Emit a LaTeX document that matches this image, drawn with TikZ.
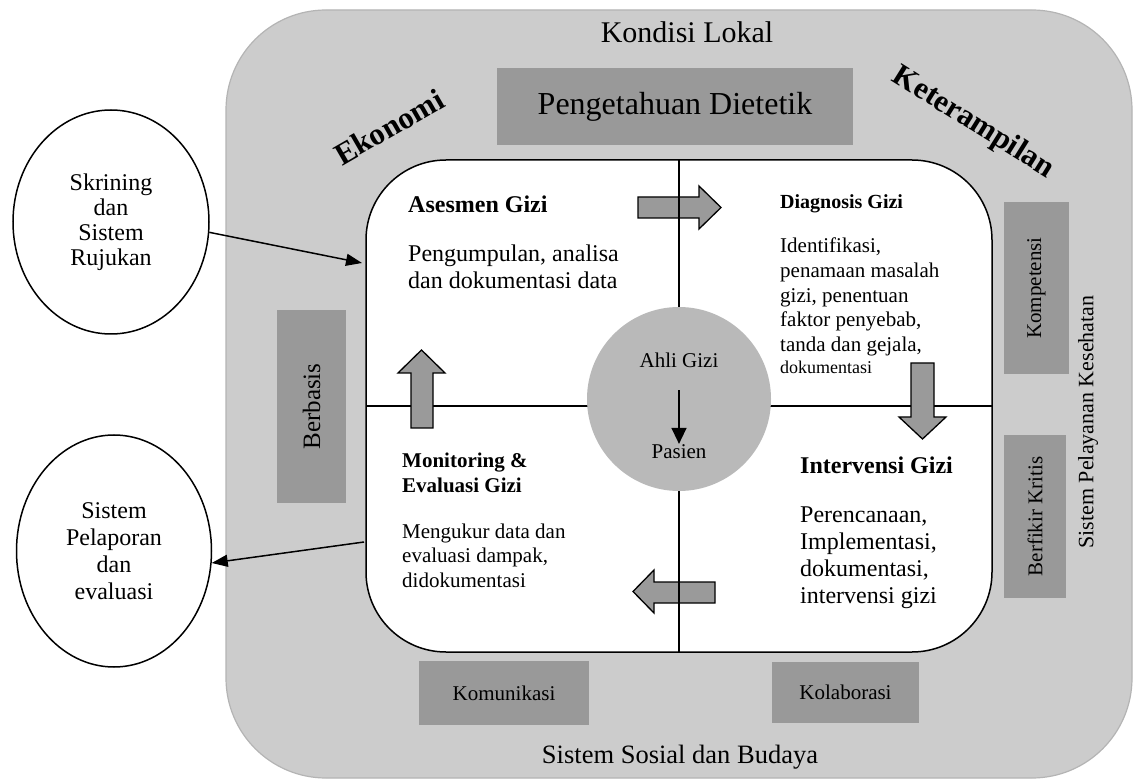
\documentclass[tikz,border=0pt]{standalone}
\usepackage{fontspec}
\setmainfont{Liberation Serif}
\usetikzlibrary{shapes.geometric,arrows.meta}
\definecolor{outerfill}{HTML}{CCCCCC}
\definecolor{outerdraw}{HTML}{B4B4B4}
\definecolor{darkbox}{HTML}{999999}
\definecolor{circfill}{HTML}{B9B9B9}
\definecolor{arrowfill}{HTML}{9A9A9A}
\newcommand\fs[2]{\fontsize{#1}{#2}\selectfont}
\tikzset{
  outerbox/.style={fill=outerfill,draw=outerdraw,line width=1.2pt,rounded corners=100pt},
  innerbox/.style={fill=white,draw=black,line width=1.5pt,rounded corners=80pt},
  darkrect/.style={fill=darkbox,draw=none,rectangle,inner sep=0pt},
  txt/.style={anchor=base west,inner sep=0pt},
  ctxt/.style={anchor=base,inner sep=0pt},
  blockarrow/.style={fill=arrowfill,draw=black,line width=1.3pt,line join=miter},
  divline/.style={draw=black,line width=1.4pt},
  oval/.style={ellipse,draw=black,line width=1.5pt,fill=white,inner sep=0pt,align=center},
  conn/.style={draw=black,line width=1.5pt,-{Triangle[length=16pt,width=12pt]}},
}
\begin{document}
\begin{tikzpicture}[x=1pt,y=-1pt]
\useasboundingbox (0,0) rectangle (1138,783);
\fill[white] (0,0) rectangle (1138,783);

% outer region
\draw[outerbox] (226,10) rectangle (1132,778);
\node[ctxt,font=\fs{30}{33}] (kondisi) at (687,43) {Kondisi Lokal};
\node[ctxt,font=\fs{26.5}{30}] (sosial) at (680,763) {Sistem Sosial dan Budaya};
\node[inner sep=0pt,font=\bfseries\fs{31}{34},rotate=30] (ekonomi) at (389,127) {Ekonomi};
\node[inner sep=0pt,font=\bfseries\fs{31}{34},rotate=-32] (ketr) at (973,123) {Keterampilan};
\node[inner sep=0pt,font=\fs{22}{25},rotate=90] (spk) at (1088,422) {Sistem Pelayanan Kesehatan};

% dark boxes
\node[darkrect,minimum width=356pt,minimum height=77pt,font=\fs{32}{36}] (pd) at (675,106.5) {Pengetahuan Dietetik};
\node[darkrect,minimum width=69pt,minimum height=193pt,font=\fs{25}{28}] (berbasis) at (311.5,406.5) {\rotatebox{90}{Berbasis}};
\node[darkrect,minimum width=65pt,minimum height=172pt,font=\fs{21}{24}] (komp) at (1036.5,288) {\rotatebox{90}{Kompetensi}};
\node[darkrect,minimum width=62pt,minimum height=163pt,font=\fs{21}{24}] (berfikir) at (1035,516.5) {\rotatebox{90}{Berfikir Kritis}};
\node[darkrect,minimum width=170pt,minimum height=64pt,font=\fs{21}{24}] (komun) at (504,693) {Komunikasi};
\node[darkrect,minimum width=147pt,minimum height=61pt,font=\fs{21}{24}] (kolab) at (845.5,692.5) {Kolaborasi};

% inner box
\draw[innerbox] (366,160) rectangle (992,652);
\draw[divline] (366,406) -- (992,406);

% block arrows
\draw[blockarrow] (638,197) -- (699,197) -- (699,186) -- (721,207.5) -- (699,229) -- (699,218) -- (638,218) -- cycle;
\draw[blockarrow] (911,363) -- (934,363) -- (934,417) -- (946,417) -- (922.5,439) -- (899,417) -- (911,417) -- cycle;
\draw[blockarrow] (715,582) -- (654,582) -- (654,570) -- (633,591.5) -- (654,613) -- (654,603) -- (715,603) -- cycle;
\draw[blockarrow] (411,428) -- (411,373) -- (398,373) -- (421.5,350) -- (445,373) -- (433,373) -- (433,428) -- cycle;

\draw[divline] (679,160) -- (679,652);

% centre circle
\node[circle,fill=circfill,draw=none,minimum size=184pt,inner sep=0pt] (core) at (679,399) {};
\node[ctxt,font=\fs{21}{24}] (ahli) at (679,368) {Ahli Gizi};
\node[ctxt,font=\fs{21}{24}] (pasien) at (679,458) {Pasien};
\draw[draw=black,line width=1.4pt,-{Triangle[length=16pt,width=15pt]}] ([yshift=-22pt]ahli.south) -- (pasien.north);

% quadrant texts
\node[txt,font=\bfseries\fs{24}{27}] (asmT) at (408,213) {Asesmen Gizi};
\node[txt,font=\fs{24}{26.5}] (asmB) at (408,262) {\vtop{\hbox{Pengumpulan, analisa}\hbox{dan dokumentasi data}}};

\node[txt,font=\bfseries\fs{20}{24}] (dgT) at (780,209) {Diagnosis Gizi};
\node[txt,font=\fs{21}{24.6}] (dgB) at (780,253) {\vtop{\hbox{Identifikasi,}\hbox{penamaan masalah}\hbox{gizi, penentuan}\hbox{faktor penyebab,}\hbox{tanda dan gejala,}\vskip-2.5pt\hbox{\fs{18}{22}dokumentasi}}};

\node[txt,font=\bfseries\fs{21}{25}] (meT) at (402,467) {\vtop{\hbox{Monitoring \&}\hbox{Evaluasi Gizi}}};
\node[txt,font=\fs{21}{24.5}] (meB) at (402,538) {\vtop{\hbox{Mengukur data dan}\hbox{evaluasi dampak,}\hbox{didokumentasi}}};

\node[txt,font=\bfseries\fs{24}{27}] (ivT) at (800,473) {Intervensi Gizi};
\node[txt,font=\fs{24}{27}] (ivB) at (800,522) {\vtop{\hbox{Perencanaan,}\hbox{Implementasi,}\hbox{dokumentasi,}\hbox{intervensi gizi}}};

% side ovals
\node[oval,minimum width=196pt,minimum height=224pt,font=\fs{24}{25}] (skr) at (111,222) {Skrining\\dan\\Sistem\\Rujukan};
\node[oval,minimum width=195pt,minimum height=232pt,font=\fs{24}{27}] (rep) at (114,551) {Sistem\\Pelaporan\\dan\\evaluasi};

\coordinate (asmIn) at (362,263);
\coordinate (evOut) at (364,542);
\draw[conn] (skr.-6) -- (asmIn);
\draw[conn] (evOut) -- (rep.-7);
\end{tikzpicture}
\end{document}
